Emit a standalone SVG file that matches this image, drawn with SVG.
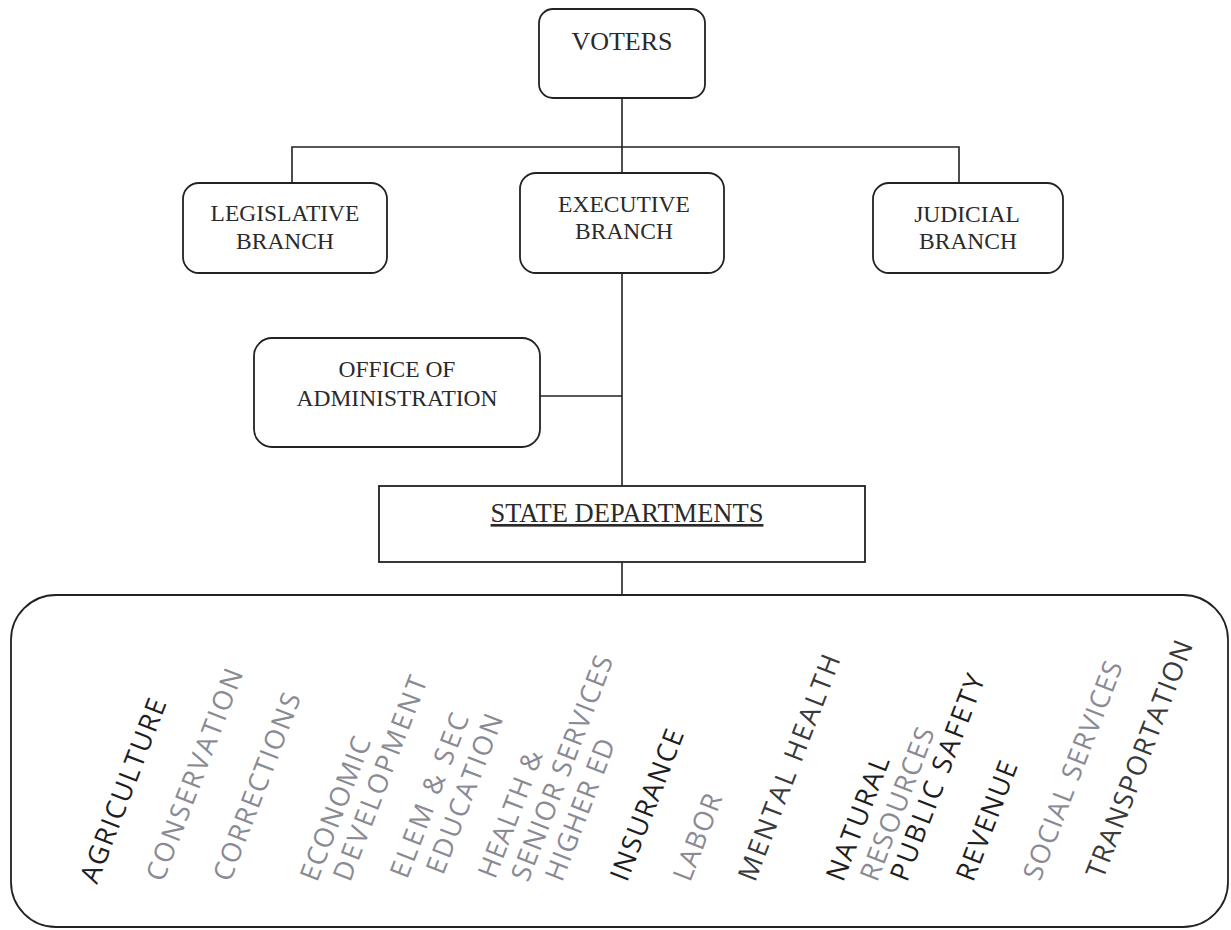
<svg xmlns="http://www.w3.org/2000/svg" width="1231" height="930" viewBox="0 0 1231 930">
<style>
.box{fill:#fff;stroke:#222;stroke-width:1.8}
.ln{fill:none;stroke:#222;stroke-width:1.6}
.t{font-family:"Liberation Serif","Times New Roman",serif;font-size:23.5px;fill:#2a2a2a;text-anchor:middle}
.d{font-family:"Open Sans","Noto Sans",sans-serif;font-size:27px}
.k{fill:#1e1e1e}
.g{fill:#8a8a94}
.m{fill:#3a3a3a}
</style>
<rect width="1231" height="930" fill="#fff"/>
<g id="connectors">
<path class="ln" d="M622 98V147M292 183V147H959V183"/>
<path class="ln" d="M622 147V173"/>
<path class="ln" d="M622 273V486M540 396H622"/>
<path class="ln" d="M622 562V595"/>
</g>
<g id="voters">
<rect class="box" x="539" y="9" width="166" height="89" rx="14"/>
<text class="t" x="622" y="50" style="font-size:26px">VOTERS</text>
</g>
<g id="legislative">
<rect class="box" x="183" y="183" width="204" height="90" rx="16"/>
<text class="t" x="285" y="221">LEGISLATIVE</text>
<text class="t" x="285" y="249">BRANCH</text>
</g>
<g id="executive">
<rect class="box" x="520" y="173" width="204" height="100" rx="16"/>
<text class="t" x="624" y="212">EXECUTIVE</text>
<text class="t" x="624" y="239">BRANCH</text>
</g>
<g id="judicial">
<rect class="box" x="873" y="183" width="190" height="90" rx="16"/>
<text class="t" x="967" y="222">JUDICIAL</text>
<text class="t" x="968" y="249">BRANCH</text>
</g>
<g id="office">
<rect class="box" x="254" y="338" width="286" height="109" rx="18"/>
<text class="t" x="397" y="377">OFFICE OF</text>
<text class="t" x="397" y="406">ADMINISTRATION</text>
</g>
<g id="state-departments">
<rect class="box" x="379" y="486" width="486" height="76"/>
<text class="t" x="627" y="522" style="font-size:26.5px;text-decoration:underline">STATE DEPARTMENTS</text>
</g>
<g id="departments">
<rect class="box" x="11" y="595" width="1217" height="332" rx="45"/>
<g class="d">
<text class="k" transform="translate(97,885) rotate(-69)" textLength="195">AGRICULTURE</text>
<text class="g" transform="translate(163,883) rotate(-69)" textLength="225">CONSERVATION</text>
<text class="g" transform="translate(230,883) rotate(-69)" textLength="199">CORRECTIONS</text>
<text class="g" transform="translate(317,883) rotate(-69)" textLength="152">ECONOMIC</text>
<text class="g" transform="translate(350,883) rotate(-69)" textLength="217">DEVELOPMENT</text>
<text class="g" transform="translate(407,880) rotate(-69)" textLength="174">ELEM &amp; SEC</text>
<text class="g" transform="translate(443,876) rotate(-69)" textLength="169">EDUCATION</text>
<text class="g" transform="translate(495,880) rotate(-69)" textLength="134">HEALTH &amp;</text>
<text class="g" transform="translate(528,883) rotate(-69)" textLength="239">SENIOR SERVICES</text>
<text class="g" transform="translate(562,883) rotate(-69)" textLength="150">HIGHER ED</text>
<text class="k" transform="translate(627,883) rotate(-69)" textLength="160">INSURANCE</text>
<text class="g" transform="translate(690,883) rotate(-69)" textLength="91">LABOR</text>
<text class="m" transform="translate(755,883) rotate(-69)" textLength="240">MENTAL HEALTH</text>
<text class="k" transform="translate(843,883) rotate(-69)" textLength="131">NATURAL</text>
<text class="g" transform="translate(877,883) rotate(-69)" textLength="162">RESOURCES</text>
<text class="k" transform="translate(907,883) rotate(-69)" textLength="219">PUBLIC SAFETY</text>
<text class="k" transform="translate(973,883) rotate(-69)" textLength="126">REVENUE</text>
<text class="g" transform="translate(1040,882) rotate(-69)" textLength="232">SOCIAL SERVICES</text>
<text class="m" transform="translate(1103,880) rotate(-69)" textLength="252">TRANSPORTATION</text>
</g>
</g>
</svg>
